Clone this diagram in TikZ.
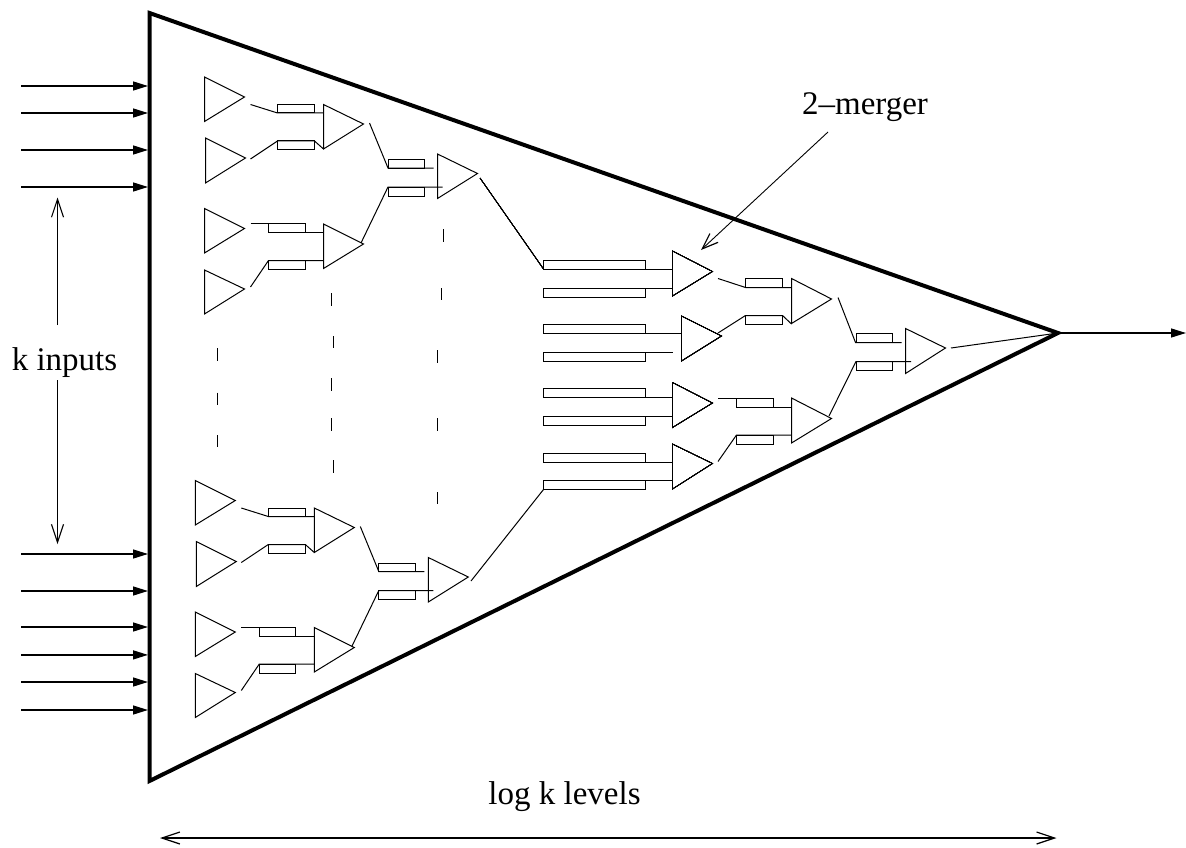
\documentclass[tikz,border=0pt]{standalone}
\usepackage{fontspec}
\setmainfont{Liberation Serif}
\usetikzlibrary{arrows.meta}
\tikzset{
  x=1pt,y=-1pt,
  thin wire/.style={line width=1pt,line join=miter},
  fine wire/.style={line width=0.6pt,line join=miter},
  frame/.style={line width=4pt,line join=miter},
  input arrow/.style={line width=1.4pt,-{Triangle[length=15pt,width=9pt]}},
  open arrow/.style={line width=1.1pt,-{Straight Barb[length=18pt,width=12pt]}},
  merger arrow/.style={line width=0.9pt,-{Straight Barb[length=16pt,width=12pt,line width=1.2pt]}},
  both open/.style={line width=1.2pt,{Straight Barb[length=18pt,width=12pt]}-{Straight Barb[length=18pt,width=12pt]}},
  label text/.style={font=\fontsize{33pt}{36pt}\selectfont,inner sep=0pt,anchor=base}
}
\newcommand{\tri}[4]{\draw[thin wire] (#1,#2) -- (#1,#3) -- (#1+40,#4) -- cycle;}
\newcommand{\ftri}[4]{\draw[fine wire] (#1,#2) -- (#1,#3) -- (#1+40,#4) -- cycle;}
\newcommand{\bx}[4]{\draw[thin wire] (#1,#2) rectangle (#3,#4);}
\newcommand{\subtree}{%
  \tri{204.5}{77}{121.5}{97}
  \tri{205.5}{138}{183}{158}
  \tri{204.5}{208.5}{253}{228.5}
  \tri{204.5}{270}{314}{289}
  \tri{323.5}{104.5}{149}{124}
  \tri{323.5}{224}{268.5}{244}
  \tri{437.5}{154}{198.5}{173.5}
  \bx{277.5}{104.5}{314.5}{113}
  \bx{277.5}{141}{314.5}{150}
  \bx{268.5}{223.5}{305}{232.5}
  \bx{268.5}{260.5}{305}{269.5}
  \bx{388}{159.5}{424.5}{168}
  \bx{388}{187}{424.5}{196}
  \draw[thin wire] (250.5,104.5) -- (277.5,113) -- (323.5,113);
  \draw[thin wire] (250.5,159) -- (277.5,141) -- (314.5,141) -- (323.5,149);
  \draw[thin wire] (250.5,223.5) -- (268.5,223.5);
  \draw[thin wire] (268.5,232.5) -- (323.5,232.5);
  \draw[thin wire] (250.5,287) -- (268.5,260.5) -- (323.5,260.5);
  \draw[thin wire] (369.5,123) -- (388,168) -- (433.5,168);
  \draw[thin wire] (361,243) -- (388,187) -- (442.5,187);
}
\begin{document}
\begin{tikzpicture}
\useasboundingbox (0,0) rectangle (1186,848);
\coordinate (A) at (149.5,13);
\coordinate (B) at (149.5,781);
\coordinate (C) at (1058,333);
\draw[frame] (A) -- (B) -- (C) -- cycle;
\foreach \y in {86,113,150,187,554,591,627,654.9,682,710}
  \draw[input arrow] (21,\y) -- (148,\y);
\coordinate (Out) at (1186,333);
\draw[input arrow] (C) -- (Out);
\subtree
\begin{scope}[shift={(-9.2,403.5)}]
\subtree
\end{scope}
% dashes
\foreach \x/\a/\b in {217/348/361,217/392.5/405,217/435/447,
    331/293/306,333/336/348,331/378/391,331/418/431,333/460/473,
    443/229/242,441/288/300,437/350/363,437/418/431,437/492/504}
  \draw[thin wire] (\x,\a) -- (\x,\b);
% long buffers
\foreach \a in {260,288,324.5,352,388.5,416.5,453,480.5}
  \bx{543.5}{\a}{645}{\a+9}
\ftri{672.5}{251}{296}{271.5}
\ftri{681.5}{316}{361}{336}
\ftri{672.5}{382.5}{427.5}{403}
\ftri{672.5}{444}{489}{463.5}
\draw[fine wire] (480,178) -- (543.5,269);
\draw[thin wire] (471,581) -- (543.5,489.5);
\draw[thin wire] (645,269) -- (672.5,269);
\draw[thin wire] (645,288) -- (672.5,288);
\draw[thin wire] (645,333.5) -- (681.5,333.5);
\draw[thin wire] (645,352) -- (672.5,352);
\draw[thin wire] (645,397.5) -- (672.5,397.5);
\draw[thin wire] (645,416.5) -- (672.5,416.5);
\draw[thin wire] (645,462) -- (672.5,462);
\draw[thin wire] (645,480.5) -- (672.5,480.5);
% third level
\tri{791.5}{278.5}{323.5}{299}
\tri{791.5}{398}{443}{418.5}
\bx{745.5}{278.5}{782.5}{287.5}
\bx{745.5}{315.5}{782.5}{324.5}
\bx{736.5}{398}{773.5}{407}
\bx{736.5}{435}{773.5}{444}
\draw[thin wire] (718,278.5) -- (745.5,287.5) -- (791.5,287.5);
\draw[thin wire] (718,333) -- (745.5,315.5) -- (782.5,315.5) -- (791.5,324);
\draw[thin wire] (718,398) -- (736.5,398);
\draw[thin wire] (736.5,407) -- (791.5,407);
\draw[thin wire] (718,461.5) -- (736.5,435) -- (791.5,435);
% last
\tri{905.5}{328.5}{373.5}{348}
\bx{856}{333.5}{892.5}{342.5}
\bx{856}{361.5}{892.5}{370.5}
\draw[thin wire] (838,297.5) -- (855.5,342.5) -- (901.5,342.5);
\draw[thin wire] (829,416) -- (856,361.5) -- (911,361.5);
\draw[thin wire] (951,348) -- (C);
% labels
\node[label text] (kin) at (64.5,370) {k inputs};
\node[label text] (logk) at (564.5,804) {log k levels};
\node[label text] (merger) at (865,115) {2--merger};
\coordinate (KU) at (57.5,197.5);
\coordinate (KUs) at (57.5,325);
\coordinate (KD) at (57.5,544);
\coordinate (KDs) at (57.5,380);
\draw[open arrow] (KUs) -- (KU);
\draw[open arrow] (KDs) -- (KD);
\coordinate (ML) at (160,838);
\coordinate (MR) at (1056.5,838);
\draw[both open] (ML) -- (MR);
\coordinate (MS) at (828,132);
\coordinate (ME) at (701,250);
\draw[merger arrow] (MS) -- (ME);
\end{tikzpicture}
\end{document}
